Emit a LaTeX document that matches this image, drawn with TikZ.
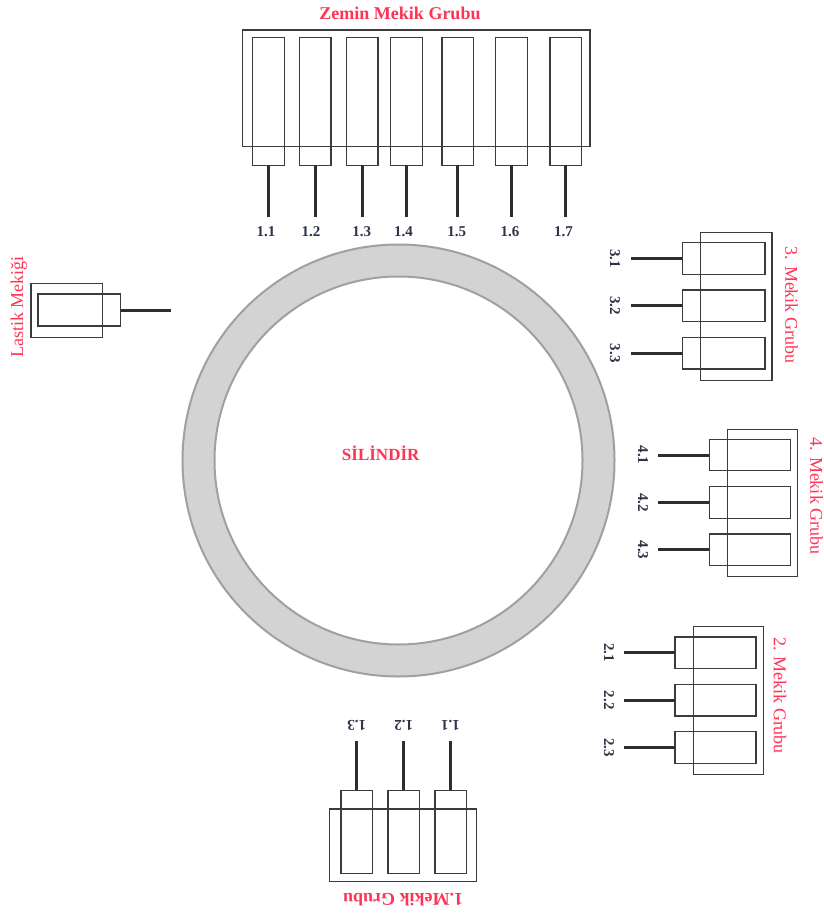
\documentclass[tikz,border=0pt]{standalone}
\usepackage{fontspec}
\setmainfont{Liberation Serif}
\definecolor{tred}{RGB}{255,51,85}
\definecolor{numcol}{RGB}{45,52,72}
\definecolor{ringfill}{RGB}{211,211,211}
\definecolor{ringedge}{RGB}{160,160,160}
\definecolor{boxcol}{RGB}{60,60,60}
\definecolor{shaftcol}{RGB}{45,45,45}
\begin{document}
\begin{tikzpicture}[x=1pt,y=-1pt,
  frame/.style={draw=boxcol,line width=1.3pt,inner sep=0pt,outer sep=0pt},
  shuttle/.style={draw=boxcol,line width=1.3pt,inner sep=0pt,outer sep=0pt,rectangle},
  vshuttle/.style={shuttle,minimum width=31.5pt,minimum height=127.6pt},
  bshuttle/.style={shuttle,minimum width=31.3pt,minimum height=83.4pt},
  hshuttle/.style={shuttle,minimum width=81pt,minimum height=31.6pt},
  shaft/.style={draw=shaftcol,line width=3pt},
  num/.style={text=numcol,font=\bfseries\fontsize{15}{15}\selectfont,inner sep=0pt},
  title/.style={text=tred,font=\fontsize{18}{20}\selectfont,inner sep=0pt},
  btitle/.style={text=tred,font=\bfseries\fontsize{18}{20}\selectfont,inner sep=0pt}]
\useasboundingbox (0,0) rectangle (824,915);
\fill[white] (0,0) rectangle (824,915);

% cylinder
\coordinate (cc) at (398.5,460.5);
\fill[ringfill,even odd rule] (cc) circle[radius=216] (cc) circle[radius=184];
\draw[ringedge,line width=2pt] (cc) circle[radius=216];
\draw[ringedge,line width=2pt] (cc) circle[radius=184];
\node[btitle,font=\bfseries\fontsize{17}{17}\selectfont] (sil) at (380.7,453) {SİLİNDİR};

% Zemin Mekik Grubu (top)
\node[btitle] (ztitle) at (400,13) {Zemin Mekik Grubu};
\draw[frame] (242.7,30) rectangle (590,146.7);
\foreach \i/\x/\lx in {1/268.5/266,2/315.2/311,3/362.2/361.7,4/406.5/403.5,5/457.7/456.7,6/511.5/510,7/565.8/563.5}{
  \node[vshuttle] (z\i) at (\x,101.5) {};
  \coordinate (z\i e) at (\x,216.7);
  \draw[shaft] (z\i.south) -- (z\i e);
  \node[num] (zl\i) at (\lx,231.7) {1.\i};
}

% 3. Mekik Grubu
\draw[frame] (700.7,232.7) rectangle (772,380.3);
\foreach \i/\y in {1/258.5,2/305.8,3/353.2}{
  \node[hshuttle,minimum width=82.7pt] (t\i) at (723.65,\y) {};
  \coordinate (t\i e) at (631,\y);
  \draw[shaft] (t\i.west) -- (t\i e);
  \node[num,rotate=-90] (tl\i) at (615,\y) {3.\i};
}
\node[title,rotate=-90] (ttitle) at (791.5,305) {3. Mekik Grubu};

% 4. Mekik Grubu
\draw[frame] (727.7,429.3) rectangle (797.7,576.7);
\foreach \i/\y in {1/455,2/502.5,3/549.9}{
  \node[hshuttle] (f\i) at (749.8,\y) {};
  \coordinate (f\i e) at (658.3,\y);
  \draw[shaft] (f\i.west) -- (f\i e);
  \node[num,rotate=-90] (fl\i) at (643,\y) {4.\i};
}
\node[title,rotate=-90] (ftitle) at (816.5,496) {4. Mekik Grubu};

% 2. Mekik Grubu
\draw[frame] (693.7,626.7) rectangle (763.3,774.7);
\foreach \i/\y in {1/652.8,2/700.2,3/747.5}{
  \node[hshuttle] (s\i) at (715.5,\y) {};
  \coordinate (s\i e) at (624.3,\y);
  \draw[shaft] (s\i.west) -- (s\i e);
  \node[num,rotate=-90] (sl\i) at (609,\y) {2.\i};
}
\node[title,rotate=-90] (stitle) at (780,695.5) {2. Mekik Grubu};

% 1. Mekik Grubu (bottom, upside down)
\draw[frame] (329.3,809) rectangle (476.3,881.3);
\foreach \i/\x in {1/450.5,2/403.7,3/356.7}{
  \node[bshuttle] (o\i) at (\x,832) {};
  \coordinate (o\i e) at (\x,740.7);
  \draw[shaft] (o\i.north) -- (o\i e);
  \node[num,rotate=180] (ol\i) at (\x,725) {1.\i};
}
\node[btitle,rotate=180] (otitle) at (403,900) {1.Mekik Grubu};

% Lastik Mekigi
\draw[frame] (31,283.3) rectangle (102.3,337.3);
\node[shuttle,minimum width=82.7pt,minimum height=32pt] (lm) at (79.35,310) {};
\coordinate (lme) at (170.7,310);
\draw[shaft] (lm.east) -- (lme);
\node[title,rotate=90] (ltitle) at (18.7,307) {Lastik Mekiği};
\end{tikzpicture}
\end{document}
